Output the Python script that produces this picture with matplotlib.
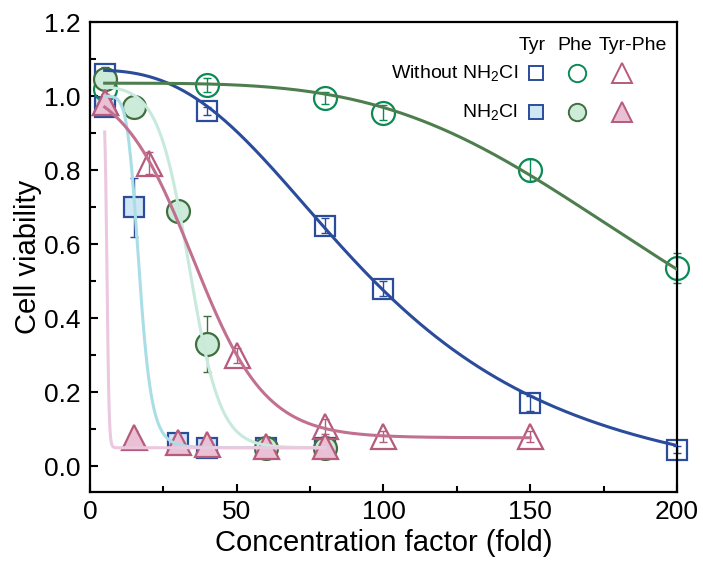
import numpy as np
import matplotlib
matplotlib.use('Agg')
import matplotlib.pyplot as plt
from matplotlib.ticker import MultipleLocator

plt.rcParams['font.family'] = ['Liberation Sans', 'DejaVu Sans']
plt.rcParams['mathtext.fontset'] = 'custom'
plt.rcParams['mathtext.rm'] = 'Liberation Sans'
plt.rcParams['mathtext.it'] = 'Liberation Sans:italic'

# without NH2Cl
x_tyr = [5, 40, 80, 100, 150, 200]
y_tyr = [1.06, 0.96, 0.65, 0.48, 0.17, 0.045]
e_tyr = [0.02, 0.01, 0.02, 0.02, 0.02, 0.01]
x_phe = [5, 40, 80, 100, 150, 200]
y_phe = [1.02, 1.03, 0.995, 0.955, 0.80, 0.535]
e_phe = [0.02, 0.02, 0.015, 0.02, 0.03, 0.04]
x_tp = [5, 20, 50, 80, 100, 150]
y_tp = [0.985, 0.82, 0.30, 0.108, 0.081, 0.081]
e_tp = [0.02, 0.03, 0.02, 0.02, 0.015, 0.015]

# with NH2Cl
x_cl = [5, 15, 30, 40, 60, 80]
y_tyr_cl = [0.97, 0.70, 0.062, 0.049, 0.05, 0.05]
e_tyr_cl = [0.02, 0.08, 0.01, 0.01, 0.01, 0.01]
y_phe_cl = [1.046, 0.97, 0.69, 0.33, 0.05, 0.05]
e_phe_cl = [0.02, 0.02, 0.01, 0.075, 0.01, 0.01]
y_tp_cl = [0.985, 0.08, 0.065, 0.06, 0.054, 0.054]
e_tp_cl = [0.02, 0.015, 0.01, 0.01, 0.01, 0.01]

# fitted curve parameters (model, A1, A2, x0, p or dx)
fit_tyr = ('logistic', 1.07, -0.10, 98.7, 2.65)
fit_phe = ('logistic', 1.035, 0.0, 203.0, 3.8)
fit_tp = ('boltzmann', 1.05, 0.077, 35.0, 12.4)
fit_tyr_cl = ('logistic', 1.0, 0.05, 16.8, 8.0)
fit_phe_cl = ('boltzmann', 1.03, 0.05, 33.8, 5.3)
fit_tp_cl = ('boltzmann', 0.99, 0.05, 5.8, 0.35)

BLUE = '#2B4C9B'
BLUE_F = '#CFE6F5'
GREEN = '#0B8A55'
GREEN_D = '#3F6F3F'
GREEN_F = '#CDEBD9'
PINK = '#B65B7C'
PINK_F = '#EAC0D5'


def curve(fit, x0, x1):
    kind, a1, a2, c, p = fit
    xs = np.linspace(x0, x1, 400)
    if kind == 'logistic':
        ys = a2 + (a1 - a2) / (1 + (xs / c) ** p)
    else:
        ys = a2 + (a1 - a2) / (1 + np.exp((xs - c) / p))
    return xs, ys


def points(ax, x, y, e, marker, ms, edge, face, z):
    ax.errorbar(x, y, yerr=e, fmt='none', ecolor=edge, elinewidth=1.0,
                capsize=3, capthick=1.0, zorder=z, clip_on=False)
    ax.plot(x, y, linestyle='none', marker=marker, ms=ms, mec=edge,
            mfc=face, mew=1.6, zorder=z, clip_on=False)


fig = plt.figure(figsize=(7.03, 5.67), dpi=100)
ax = fig.add_axes([0.128, 0.132, 0.835, 0.829])

points(ax, x_tyr, y_tyr, e_tyr, 's', 14.5, BLUE, 'none', 2)
points(ax, x_cl, y_tyr_cl, e_tyr_cl, 's', 14.5, BLUE, BLUE_F, 2)
points(ax, x_phe, y_phe, e_phe, 'o', 16.5, GREEN, 'none', 2.1)
points(ax, x_cl, y_phe_cl, e_phe_cl, 'o', 16.5, GREEN_D, GREEN_F, 2.1)
points(ax, x_tp, y_tp, e_tp, '^', 18, PINK, 'none', 2.2)
points(ax, x_cl, y_tp_cl, e_tp_cl, '^', 18, PINK, PINK_F, 2.2)

lw = 2.2
ax.plot(*curve(fit_tyr_cl, x_cl[0], x_cl[-1]), color='#A9DEE6', lw=lw, zorder=3)
ax.plot(*curve(fit_phe_cl, x_cl[0], x_cl[-1]), color='#C8EADC', lw=lw, zorder=3)
ax.plot(*curve(fit_tp_cl, x_cl[0], x_cl[-1]), color='#EBC8DF', lw=lw, zorder=3)
ax.plot(*curve(fit_tp, x_tp[0], x_tp[-1]), color='#C27090', lw=lw, zorder=3)
ax.plot(*curve(fit_tyr, x_tyr[0], x_tyr[-1]), color=BLUE, lw=lw, zorder=3)
ax.plot(*curve(fit_phe, x_phe[0], x_phe[-1]), color='#4E7E4E', lw=lw, zorder=3)

ax.set_xlim(0, 200)
ax.set_ylim(-0.07, 1.2)
ax.xaxis.set_major_locator(MultipleLocator(50))
ax.xaxis.set_minor_locator(MultipleLocator(25))
ax.yaxis.set_minor_locator(MultipleLocator(0.1))
ax.set_yticks([0, 0.2, 0.4, 0.6, 0.8, 1.0, 1.2])
ax.set_yticklabels(['0.0', '0.2', '0.4', '0.6', '0.8', '1.0', '1.2'])
ax.tick_params(which='both', direction='in', width=1.5, labelsize=19)
ax.tick_params(which='major', length=6)
ax.tick_params(which='minor', length=4)
ax.tick_params(axis='x', pad=6)
ax.tick_params(axis='y', pad=6.5)
for s in ax.spines.values():
    s.set_linewidth(1.6)

ax.set_xlabel('Concentration factor (fold)', fontsize=21, labelpad=3)
ax.set_ylabel('Cell viability', fontsize=21, labelpad=2)

# legend table
tr = ax.transAxes
cols = [0.760, 0.830, 0.906]
rows = [0.891, 0.809]
for txt, cx in zip(['Tyr', 'Phe', 'Tyr-Phe'], [0.753, 0.826, 0.925]):
    ax.text(cx, 0.951, txt, transform=tr, ha='center', va='center', fontsize=14)
ax.text(0.729, rows[0], 'Without NH$_2$Cl', transform=tr, ha='right', va='center', fontsize=14)
ax.text(0.729, rows[1], 'NH$_2$Cl', transform=tr, ha='right', va='center', fontsize=14)
leg = [('s', 10.5, BLUE, 'none', BLUE, BLUE_F),
       ('o', 12.5, GREEN, 'none', GREEN_D, GREEN_F),
       ('^', 14, PINK, 'none', PINK, PINK_F)]
for cx, (m, ms, e1, f1, e2, f2) in zip(cols, leg):
    ax.plot([cx], [rows[0]], marker=m, ms=ms, mec=e1, mfc=f1, mew=1.4,
            transform=tr, linestyle='none')
    ax.plot([cx], [rows[1]], marker=m, ms=ms, mec=e2, mfc=f2, mew=1.4,
            transform=tr, linestyle='none')

fig.savefig('out.png', dpi=100)
